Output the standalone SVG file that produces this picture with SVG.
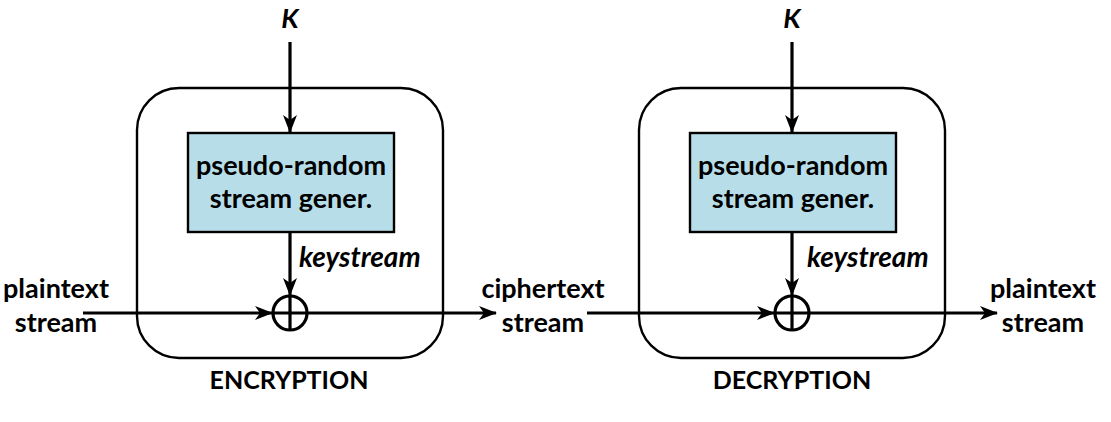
<svg xmlns="http://www.w3.org/2000/svg" width="1111" height="422" viewBox="0 0 1111 422">
<defs>
<marker id="ah" viewBox="0 0 18 14" refX="17" refY="7" markerWidth="18" markerHeight="14" markerUnits="userSpaceOnUse" orient="auto">
<path d="M0,0 L18,7 L0,14 L5,7 Z" fill="#000"/>
</marker>
</defs>
<style>
.frame{fill:none;stroke:#000;stroke-width:2.4}
.gen{fill:#b7dee8;stroke:#000;stroke-width:2.4}
.ln{fill:none;stroke:#000;stroke-width:3.2}
.xor{fill:#fff;stroke:#000;stroke-width:3.2}
text{font-family:Lato,"Open Sans","Liberation Sans",sans-serif;font-weight:bold;font-size:27px;fill:#000}
.c{text-anchor:middle}
.i{font-style:italic}
.k{font-size:28px}
.cap{font-size:25px}
</style>
<rect width="1111" height="422" fill="#fff"/>
<g id="connectors">
<line class="ln" x1="290" y1="42" x2="290" y2="132" marker-end="url(#ah)"/>
<line class="ln" x1="290" y1="232" x2="290" y2="295" marker-end="url(#ah)"/>
<line class="ln" x1="83" y1="313" x2="272" y2="313" marker-end="url(#ah)"/>
<line class="ln" x1="308" y1="313" x2="496" y2="313" marker-end="url(#ah)"/>
<line class="ln" x1="792" y1="42" x2="792" y2="132" marker-end="url(#ah)"/>
<line class="ln" x1="792" y1="232" x2="792" y2="295" marker-end="url(#ah)"/>
<line class="ln" x1="587" y1="313" x2="774" y2="313" marker-end="url(#ah)"/>
<line class="ln" x1="810" y1="313" x2="997" y2="313" marker-end="url(#ah)"/>
</g>
<g id="encryption">
<rect class="frame" x="137" y="88" width="306" height="270" rx="42"/>
<text class="c cap" x="289" y="389">ENCRYPTION</text>
</g>
<g id="enc-key">
<text class="c i" x="290" y="28">K</text>
</g>
<g id="enc-generator">
<rect class="gen" x="188" y="133" width="206" height="99"/>
<text class="c" x="291" y="175">pseudo-random</text>
<text class="c" x="291" y="208">stream gener.</text>
</g>
<g id="enc-keystream-label">
<text class="i k" x="299" y="267">keystream</text>
</g>
<g id="enc-xor">
<circle class="xor" cx="290" cy="313" r="17"/>
<line class="ln" x1="273" y1="313" x2="307" y2="313"/>
<line class="ln" x1="290" y1="296" x2="290" y2="330"/>
</g>
<g id="plaintext-in">
<text class="c" x="56" y="298">plaintext</text>
<text class="c" x="56" y="332">stream</text>
</g>
<g id="ciphertext">
<text class="c" x="543" y="298">ciphertext</text>
<text class="c" x="543" y="332">stream</text>
</g>
<g id="decryption">
<rect class="frame" x="639" y="88" width="306" height="270" rx="42"/>
<text class="c cap" x="792" y="389">DECRYPTION</text>
</g>
<g id="dec-key">
<text class="c i" x="792" y="28">K</text>
</g>
<g id="dec-generator">
<rect class="gen" x="690" y="133" width="206" height="99"/>
<text class="c" x="793" y="175">pseudo-random</text>
<text class="c" x="793" y="208">stream gener.</text>
</g>
<g id="dec-keystream-label">
<text class="i k" x="807" y="267">keystream</text>
</g>
<g id="dec-xor">
<circle class="xor" cx="792" cy="313" r="17"/>
<line class="ln" x1="775" y1="313" x2="809" y2="313"/>
<line class="ln" x1="792" y1="296" x2="792" y2="330"/>
</g>
<g id="plaintext-out">
<text class="c" x="1043" y="298">plaintext</text>
<text class="c" x="1043" y="332">stream</text>
</g>
</svg>
